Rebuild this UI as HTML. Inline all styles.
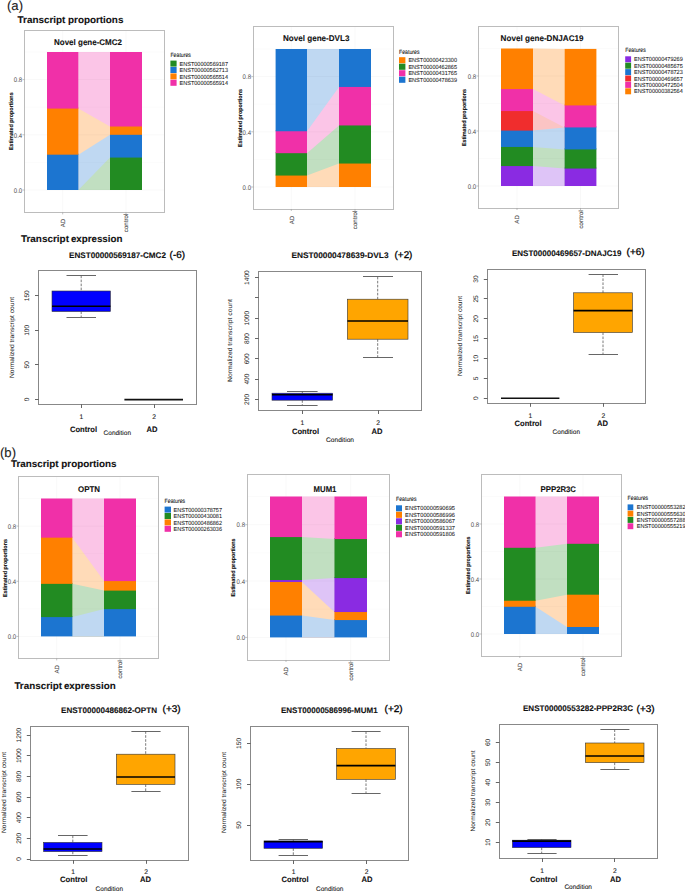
<!DOCTYPE html>
<html><head><meta charset="utf-8"><title>Transcript proportions and expression</title>
<style>
html,body{margin:0;padding:0;background:#fff;}
body{width:685px;height:891px;overflow:hidden;}
svg{display:block;font-family:"Liberation Sans",sans-serif;text-rendering:geometricPrecision;}
</style></head>
<body>
<svg width="685" height="891" viewBox="0 0 685 891">
<rect x="0" y="0" width="685" height="891" fill="#fff"/>
<text x="7" y="10" font-size="13" fill="#222" stroke="#222" stroke-width="0.1" text-anchor="start" textLength="16" lengthAdjust="spacingAndGlyphs">(a)</text>
<text x="17.6" y="22.6" font-size="9.7" font-weight="bold" fill="#111" stroke="#111" stroke-width="0.1" text-anchor="start" textLength="105.8" lengthAdjust="spacingAndGlyphs">Transcript proportions</text>
<text x="20.9" y="242" font-size="9.7" font-weight="bold" fill="#111" stroke="#111" stroke-width="0.1" text-anchor="start" textLength="48.1" lengthAdjust="spacingAndGlyphs">Transcript</text>
<text x="70.9" y="242" font-size="9.7" font-weight="bold" fill="#111" stroke="#111" stroke-width="0.1" text-anchor="start" textLength="51.5" lengthAdjust="spacingAndGlyphs">expression</text>
<text x="0" y="456.6" font-size="13" fill="#222" stroke="#222" stroke-width="0.1" text-anchor="start" textLength="16" lengthAdjust="spacingAndGlyphs">(b)</text>
<text x="11" y="467" font-size="9.7" font-weight="bold" fill="#111" stroke="#111" stroke-width="0.1" text-anchor="start" textLength="105.6" lengthAdjust="spacingAndGlyphs">Transcript proportions</text>
<text x="14.4" y="689" font-size="9.7" font-weight="bold" fill="#111" stroke="#111" stroke-width="0.1" text-anchor="start" textLength="47.6" lengthAdjust="spacingAndGlyphs">Transcript</text>
<text x="63.9" y="689" font-size="9.7" font-weight="bold" fill="#111" stroke="#111" stroke-width="0.1" text-anchor="start" textLength="51.8" lengthAdjust="spacingAndGlyphs">expression</text>
<polygon points="78.4,52 110,52 110,190 78.4,190" fill="#fbc5e7"/>
<polygon points="78.4,108.58 110,126.52 110,190 78.4,190" fill="#ffdbb8"/>
<polygon points="78.4,154.67 110,134.8 110,190 78.4,190" fill="#bfd8f2"/>
<polygon points="78.4,190 110,157.57 110,190 78.4,190" fill="#c1dfc1"/>
<line x1="24.6" y1="162.4" x2="164.4" y2="162.4" stroke="#000" stroke-width="0.5" stroke-opacity="0.035"/>
<line x1="24.6" y1="107.2" x2="164.4" y2="107.2" stroke="#000" stroke-width="0.5" stroke-opacity="0.035"/>
<line x1="24.6" y1="52" x2="164.4" y2="52" stroke="#000" stroke-width="0.5" stroke-opacity="0.035"/>
<line x1="24.6" y1="190" x2="164.4" y2="190" stroke="#000" stroke-width="0.5" stroke-opacity="0.06"/>
<line x1="24.6" y1="134.8" x2="164.4" y2="134.8" stroke="#000" stroke-width="0.5" stroke-opacity="0.06"/>
<line x1="24.6" y1="79.6" x2="164.4" y2="79.6" stroke="#000" stroke-width="0.5" stroke-opacity="0.06"/>
<line x1="62.7" y1="30.2" x2="62.7" y2="212.4" stroke="#000" stroke-width="0.5" stroke-opacity="0.06"/>
<line x1="126" y1="30.2" x2="126" y2="212.4" stroke="#000" stroke-width="0.5" stroke-opacity="0.06"/>
<rect x="110" y="156.57" width="32" height="33.43" fill="#228b22"/>
<rect x="47" y="153.67" width="31.4" height="36.33" fill="#1c75d0"/>
<rect x="110" y="133.8" width="32" height="23.77" fill="#1c75d0"/>
<rect x="47" y="107.58" width="31.4" height="47.09" fill="#ff8000"/>
<rect x="110" y="125.52" width="32" height="9.28" fill="#ff8000"/>
<rect x="47" y="52" width="31.4" height="56.58" fill="#f030a8"/>
<rect x="110" y="52" width="32" height="74.52" fill="#f030a8"/>
<rect x="24.5" y="30.5" width="140" height="182" fill="none" stroke="#bcbcbc" stroke-width="1"/>
<text x="54" y="44.7" font-size="8.2" font-weight="bold" fill="#111" stroke="#111" stroke-width="0.1" text-anchor="start" textLength="68" lengthAdjust="spacingAndGlyphs">Novel gene-CMC2</text>
<line x1="22.4" y1="190" x2="24.6" y2="190" stroke="#9a9a9a" stroke-width="0.6"/>
<text x="22.2" y="192.8" font-size="6.7" fill="#4d4d4d" stroke="#4d4d4d" stroke-width="0" text-anchor="end" textLength="8.4" lengthAdjust="spacingAndGlyphs">0.0</text>
<line x1="22.4" y1="134.8" x2="24.6" y2="134.8" stroke="#9a9a9a" stroke-width="0.6"/>
<text x="22.2" y="137.6" font-size="6.7" fill="#4d4d4d" stroke="#4d4d4d" stroke-width="0" text-anchor="end" textLength="8.4" lengthAdjust="spacingAndGlyphs">0.4</text>
<line x1="22.4" y1="79.6" x2="24.6" y2="79.6" stroke="#9a9a9a" stroke-width="0.6"/>
<text x="22.2" y="82.4" font-size="6.7" fill="#4d4d4d" stroke="#4d4d4d" stroke-width="0" text-anchor="end" textLength="8.4" lengthAdjust="spacingAndGlyphs">0.8</text>
<line x1="62.7" y1="212.4" x2="62.7" y2="214.4" stroke="#9a9a9a" stroke-width="0.6"/>
<line x1="126" y1="212.4" x2="126" y2="214.4" stroke="#9a9a9a" stroke-width="0.6"/>
<text transform="translate(64.9 223) rotate(-90)" x="0" y="0" font-size="6.1" fill="#505050" stroke="#505050" stroke-width="0.1" text-anchor="middle">AD</text>
<text transform="translate(128.2 223) rotate(-90)" x="0" y="0" font-size="6.1" fill="#505050" stroke="#505050" stroke-width="0.1" text-anchor="middle">control</text>
<text transform="translate(13.15 121.2) rotate(-90)" x="0" y="0" font-size="5.7" font-weight="bold" fill="#111" stroke="#111" stroke-width="0.1" text-anchor="middle" textLength="57.7" lengthAdjust="spacingAndGlyphs">Estimated proportions</text>
<text x="170.4" y="57" font-size="6.3" fill="#000" stroke="#000" stroke-width="0.05" text-anchor="start" textLength="20.6" lengthAdjust="spacingAndGlyphs">Features</text>
<rect x="170.4" y="60.6" width="6.2" height="6" fill="#228b22"/>
<text x="179.6" y="65.7" font-size="5.9" fill="#111" stroke="#111" stroke-width="0.05" text-anchor="start" textLength="48.4" lengthAdjust="spacingAndGlyphs">ENST00000569187</text>
<rect x="170.4" y="67" width="6.2" height="6" fill="#1c75d0"/>
<text x="179.6" y="72.1" font-size="5.9" fill="#111" stroke="#111" stroke-width="0.05" text-anchor="start" textLength="48.4" lengthAdjust="spacingAndGlyphs">ENST00000562713</text>
<rect x="170.4" y="73.4" width="6.2" height="6" fill="#ff8000"/>
<text x="179.6" y="78.5" font-size="5.9" fill="#111" stroke="#111" stroke-width="0.05" text-anchor="start" textLength="48.4" lengthAdjust="spacingAndGlyphs">ENST00000565514</text>
<rect x="170.4" y="79.8" width="6.2" height="6" fill="#f030a8"/>
<text x="179.6" y="84.9" font-size="5.9" fill="#111" stroke="#111" stroke-width="0.05" text-anchor="start" textLength="48.4" lengthAdjust="spacingAndGlyphs">ENST00000565914</text>
<polygon points="307,49 339,49 339,187 307,187" fill="#bfd8f2"/>
<polygon points="307,131.25 339,86.95 339,187 307,187" fill="#fbc5e7"/>
<polygon points="307,153.19 339,125.45 339,187 307,187" fill="#c1dfc1"/>
<polygon points="307,175.55 339,163.54 339,187 307,187" fill="#ffdbb8"/>
<line x1="253.4" y1="159.4" x2="393.6" y2="159.4" stroke="#000" stroke-width="0.5" stroke-opacity="0.035"/>
<line x1="253.4" y1="104.2" x2="393.6" y2="104.2" stroke="#000" stroke-width="0.5" stroke-opacity="0.035"/>
<line x1="253.4" y1="49" x2="393.6" y2="49" stroke="#000" stroke-width="0.5" stroke-opacity="0.035"/>
<line x1="253.4" y1="187" x2="393.6" y2="187" stroke="#000" stroke-width="0.5" stroke-opacity="0.06"/>
<line x1="253.4" y1="131.8" x2="393.6" y2="131.8" stroke="#000" stroke-width="0.5" stroke-opacity="0.06"/>
<line x1="253.4" y1="76.6" x2="393.6" y2="76.6" stroke="#000" stroke-width="0.5" stroke-opacity="0.06"/>
<line x1="291.3" y1="26.6" x2="291.3" y2="209" stroke="#000" stroke-width="0.5" stroke-opacity="0.06"/>
<line x1="355" y1="26.6" x2="355" y2="209" stroke="#000" stroke-width="0.5" stroke-opacity="0.06"/>
<rect x="275.6" y="174.55" width="31.4" height="12.45" fill="#ff8000"/>
<rect x="339" y="162.54" width="32" height="24.46" fill="#ff8000"/>
<rect x="275.6" y="152.19" width="31.4" height="23.36" fill="#228b22"/>
<rect x="339" y="124.45" width="32" height="39.09" fill="#228b22"/>
<rect x="275.6" y="130.25" width="31.4" height="22.94" fill="#f030a8"/>
<rect x="339" y="85.95" width="32" height="39.5" fill="#f030a8"/>
<rect x="275.6" y="49" width="31.4" height="82.25" fill="#1c75d0"/>
<rect x="339" y="49" width="32" height="37.95" fill="#1c75d0"/>
<rect x="253.5" y="26.5" width="140" height="183" fill="none" stroke="#bcbcbc" stroke-width="1"/>
<text x="283" y="41" font-size="8.2" font-weight="bold" fill="#111" stroke="#111" stroke-width="0.1" text-anchor="start" textLength="66.4" lengthAdjust="spacingAndGlyphs">Novel gene-DVL3</text>
<line x1="251.2" y1="187" x2="253.4" y2="187" stroke="#9a9a9a" stroke-width="0.6"/>
<text x="251" y="189.8" font-size="6.7" fill="#4d4d4d" stroke="#4d4d4d" stroke-width="0" text-anchor="end" textLength="8.4" lengthAdjust="spacingAndGlyphs">0.0</text>
<line x1="251.2" y1="131.8" x2="253.4" y2="131.8" stroke="#9a9a9a" stroke-width="0.6"/>
<text x="251" y="134.6" font-size="6.7" fill="#4d4d4d" stroke="#4d4d4d" stroke-width="0" text-anchor="end" textLength="8.4" lengthAdjust="spacingAndGlyphs">0.4</text>
<line x1="251.2" y1="76.6" x2="253.4" y2="76.6" stroke="#9a9a9a" stroke-width="0.6"/>
<text x="251" y="79.4" font-size="6.7" fill="#4d4d4d" stroke="#4d4d4d" stroke-width="0" text-anchor="end" textLength="8.4" lengthAdjust="spacingAndGlyphs">0.8</text>
<line x1="291.3" y1="209" x2="291.3" y2="211" stroke="#9a9a9a" stroke-width="0.6"/>
<line x1="355" y1="209" x2="355" y2="211" stroke="#9a9a9a" stroke-width="0.6"/>
<text transform="translate(293.5 220) rotate(-90)" x="0" y="0" font-size="6.1" fill="#505050" stroke="#505050" stroke-width="0.1" text-anchor="middle">AD</text>
<text transform="translate(357.2 220) rotate(-90)" x="0" y="0" font-size="6.1" fill="#505050" stroke="#505050" stroke-width="0.1" text-anchor="middle">control</text>
<text transform="translate(242.05 118) rotate(-90)" x="0" y="0" font-size="5.7" font-weight="bold" fill="#111" stroke="#111" stroke-width="0.1" text-anchor="middle" textLength="58" lengthAdjust="spacingAndGlyphs">Estimated proportions</text>
<text x="399" y="53.8" font-size="6.3" fill="#000" stroke="#000" stroke-width="0.05" text-anchor="start" textLength="20.6" lengthAdjust="spacingAndGlyphs">Features</text>
<rect x="399" y="57.2" width="6.4" height="6.1" fill="#ff8000"/>
<text x="408.4" y="62.35" font-size="5.9" fill="#111" stroke="#111" stroke-width="0.05" text-anchor="start" textLength="48.6" lengthAdjust="spacingAndGlyphs">ENST00000423300</text>
<rect x="399" y="63.7" width="6.4" height="6.1" fill="#228b22"/>
<text x="408.4" y="68.85" font-size="5.9" fill="#111" stroke="#111" stroke-width="0.05" text-anchor="start" textLength="48.6" lengthAdjust="spacingAndGlyphs">ENST00000462865</text>
<rect x="399" y="70.2" width="6.4" height="6.1" fill="#f030a8"/>
<text x="408.4" y="75.35" font-size="5.9" fill="#111" stroke="#111" stroke-width="0.05" text-anchor="start" textLength="48.6" lengthAdjust="spacingAndGlyphs">ENST00000431765</text>
<rect x="399" y="76.7" width="6.4" height="6.1" fill="#1c75d0"/>
<text x="408.4" y="81.85" font-size="5.9" fill="#111" stroke="#111" stroke-width="0.05" text-anchor="start" textLength="48.6" lengthAdjust="spacingAndGlyphs">ENST00000478639</text>
<polygon points="533,48.5 564.6,48.91 564.6,186 533,186" fill="#ffdbb8"/>
<polygon points="533,89.06 564.6,105.42 564.6,186 533,186" fill="#fbc5e7"/>
<polygon points="533,111.06 564.6,127.42 564.6,186 533,186" fill="#fbc4c4"/>
<polygon points="533,130.59 564.6,127.42 564.6,186 533,186" fill="#bfd8f2"/>
<polygon points="533,146.95 564.6,149.43 564.6,186 533,186" fill="#c1dfc1"/>
<polygon points="533,166.06 564.6,168.54 564.6,186 533,186" fill="#dec4f7"/>
<line x1="478.6" y1="158.5" x2="618.6" y2="158.5" stroke="#000" stroke-width="0.5" stroke-opacity="0.035"/>
<line x1="478.6" y1="103.5" x2="618.6" y2="103.5" stroke="#000" stroke-width="0.5" stroke-opacity="0.035"/>
<line x1="478.6" y1="48.5" x2="618.6" y2="48.5" stroke="#000" stroke-width="0.5" stroke-opacity="0.035"/>
<line x1="478.6" y1="186" x2="618.6" y2="186" stroke="#000" stroke-width="0.5" stroke-opacity="0.06"/>
<line x1="478.6" y1="131" x2="618.6" y2="131" stroke="#000" stroke-width="0.5" stroke-opacity="0.06"/>
<line x1="478.6" y1="76" x2="618.6" y2="76" stroke="#000" stroke-width="0.5" stroke-opacity="0.06"/>
<line x1="517" y1="26" x2="517" y2="208" stroke="#000" stroke-width="0.5" stroke-opacity="0.06"/>
<line x1="580.5" y1="26" x2="580.5" y2="208" stroke="#000" stroke-width="0.5" stroke-opacity="0.06"/>
<rect x="501" y="165.06" width="32" height="20.94" fill="#8a2be2"/>
<rect x="564.6" y="167.54" width="31.8" height="18.46" fill="#8a2be2"/>
<rect x="501" y="145.95" width="32" height="20.11" fill="#228b22"/>
<rect x="564.6" y="148.43" width="31.8" height="20.11" fill="#228b22"/>
<rect x="501" y="129.59" width="32" height="17.36" fill="#1c75d0"/>
<rect x="564.6" y="126.42" width="31.8" height="23" fill="#1c75d0"/>
<rect x="501" y="110.06" width="32" height="20.53" fill="#f02d2d"/>
<rect x="501" y="88.06" width="32" height="23" fill="#f030a8"/>
<rect x="564.6" y="104.42" width="31.8" height="23" fill="#f030a8"/>
<rect x="501" y="48.5" width="32" height="40.56" fill="#ff8000"/>
<rect x="564.6" y="48.91" width="31.8" height="56.51" fill="#ff8000"/>
<rect x="478.5" y="26.5" width="140" height="182" fill="none" stroke="#bcbcbc" stroke-width="1"/>
<text x="500.6" y="41" font-size="8.2" font-weight="bold" fill="#111" stroke="#111" stroke-width="0.1" text-anchor="start" textLength="83" lengthAdjust="spacingAndGlyphs">Novel gene-DNJAC19</text>
<line x1="476.4" y1="186" x2="478.6" y2="186" stroke="#9a9a9a" stroke-width="0.6"/>
<text x="476.2" y="188.8" font-size="6.7" fill="#4d4d4d" stroke="#4d4d4d" stroke-width="0" text-anchor="end" textLength="8.4" lengthAdjust="spacingAndGlyphs">0.0</text>
<line x1="476.4" y1="131" x2="478.6" y2="131" stroke="#9a9a9a" stroke-width="0.6"/>
<text x="476.2" y="133.8" font-size="6.7" fill="#4d4d4d" stroke="#4d4d4d" stroke-width="0" text-anchor="end" textLength="8.4" lengthAdjust="spacingAndGlyphs">0.4</text>
<line x1="476.4" y1="76" x2="478.6" y2="76" stroke="#9a9a9a" stroke-width="0.6"/>
<text x="476.2" y="78.8" font-size="6.7" fill="#4d4d4d" stroke="#4d4d4d" stroke-width="0" text-anchor="end" textLength="8.4" lengthAdjust="spacingAndGlyphs">0.8</text>
<line x1="517" y1="208" x2="517" y2="210" stroke="#9a9a9a" stroke-width="0.6"/>
<line x1="580.5" y1="208" x2="580.5" y2="210" stroke="#9a9a9a" stroke-width="0.6"/>
<text transform="translate(519.2 219.4) rotate(-90)" x="0" y="0" font-size="6.1" fill="#505050" stroke="#505050" stroke-width="0.1" text-anchor="middle">AD</text>
<text transform="translate(582.7 219.4) rotate(-90)" x="0" y="0" font-size="6.1" fill="#505050" stroke="#505050" stroke-width="0.1" text-anchor="middle">control</text>
<text transform="translate(466.25 117.5) rotate(-90)" x="0" y="0" font-size="5.7" font-weight="bold" fill="#111" stroke="#111" stroke-width="0.1" text-anchor="middle" textLength="57" lengthAdjust="spacingAndGlyphs">Estimated proportions</text>
<text x="625.2" y="52.4" font-size="6.3" fill="#000" stroke="#000" stroke-width="0.05" text-anchor="start" textLength="20.6" lengthAdjust="spacingAndGlyphs">Features</text>
<rect x="625.2" y="56.3" width="5.9" height="6" fill="#8a2be2"/>
<text x="634" y="61.4" font-size="5.9" fill="#111" stroke="#111" stroke-width="0.05" text-anchor="start" textLength="48.8" lengthAdjust="spacingAndGlyphs">ENST00000479269</text>
<rect x="625.2" y="62.7" width="5.9" height="6" fill="#228b22"/>
<text x="634" y="67.8" font-size="5.9" fill="#111" stroke="#111" stroke-width="0.05" text-anchor="start" textLength="48.8" lengthAdjust="spacingAndGlyphs">ENST00000485675</text>
<rect x="625.2" y="69.1" width="5.9" height="6" fill="#1c75d0"/>
<text x="634" y="74.2" font-size="5.9" fill="#111" stroke="#111" stroke-width="0.05" text-anchor="start" textLength="48.8" lengthAdjust="spacingAndGlyphs">ENST00000478723</text>
<rect x="625.2" y="75.5" width="5.9" height="6" fill="#f02d2d"/>
<text x="634" y="80.6" font-size="5.9" fill="#111" stroke="#111" stroke-width="0.05" text-anchor="start" textLength="48.8" lengthAdjust="spacingAndGlyphs">ENST00000469657</text>
<rect x="625.2" y="81.9" width="5.9" height="6" fill="#f030a8"/>
<text x="634" y="87" font-size="5.9" fill="#111" stroke="#111" stroke-width="0.05" text-anchor="start" textLength="48.8" lengthAdjust="spacingAndGlyphs">ENST00000472504</text>
<rect x="625.2" y="88.3" width="5.9" height="6" fill="#ff8000"/>
<text x="634" y="93.4" font-size="5.9" fill="#111" stroke="#111" stroke-width="0.05" text-anchor="start" textLength="48.8" lengthAdjust="spacingAndGlyphs">ENST00000382564</text>
<polygon points="72.4,498.5 104,498.5 104,636.4 72.4,636.4" fill="#fbc5e7"/>
<polygon points="72.4,537.66 104,581.1 104,636.4 72.4,636.4" fill="#ffdbb8"/>
<polygon points="72.4,583.86 104,590.62 104,636.4 72.4,636.4" fill="#c1dfc1"/>
<polygon points="72.4,617.09 104,609.1 104,636.4 72.4,636.4" fill="#bfd8f2"/>
<line x1="18.6" y1="608.82" x2="158.6" y2="608.82" stroke="#000" stroke-width="0.5" stroke-opacity="0.035"/>
<line x1="18.6" y1="553.66" x2="158.6" y2="553.66" stroke="#000" stroke-width="0.5" stroke-opacity="0.035"/>
<line x1="18.6" y1="498.5" x2="158.6" y2="498.5" stroke="#000" stroke-width="0.5" stroke-opacity="0.035"/>
<line x1="18.6" y1="636.4" x2="158.6" y2="636.4" stroke="#000" stroke-width="0.5" stroke-opacity="0.06"/>
<line x1="18.6" y1="581.24" x2="158.6" y2="581.24" stroke="#000" stroke-width="0.5" stroke-opacity="0.06"/>
<line x1="18.6" y1="526.08" x2="158.6" y2="526.08" stroke="#000" stroke-width="0.5" stroke-opacity="0.06"/>
<line x1="56.7" y1="476.4" x2="56.7" y2="658.4" stroke="#000" stroke-width="0.5" stroke-opacity="0.06"/>
<line x1="120" y1="476.4" x2="120" y2="658.4" stroke="#000" stroke-width="0.5" stroke-opacity="0.06"/>
<rect x="41" y="616.09" width="31.4" height="20.31" fill="#1c75d0"/>
<rect x="104" y="608.1" width="32" height="28.3" fill="#1c75d0"/>
<rect x="41" y="582.86" width="31.4" height="34.23" fill="#228b22"/>
<rect x="104" y="589.62" width="32" height="19.48" fill="#228b22"/>
<rect x="41" y="536.66" width="31.4" height="47.2" fill="#ff8000"/>
<rect x="104" y="580.1" width="32" height="10.52" fill="#ff8000"/>
<rect x="41" y="498.5" width="31.4" height="39.16" fill="#f030a8"/>
<rect x="104" y="498.5" width="32" height="82.6" fill="#f030a8"/>
<rect x="18.5" y="476.5" width="140" height="182" fill="none" stroke="#bcbcbc" stroke-width="1"/>
<text x="78" y="491.6" font-size="8.2" font-weight="bold" fill="#111" stroke="#111" stroke-width="0.1" text-anchor="start" textLength="22" lengthAdjust="spacingAndGlyphs">OPTN</text>
<line x1="16.4" y1="636.4" x2="18.6" y2="636.4" stroke="#9a9a9a" stroke-width="0.6"/>
<text x="16.2" y="639.2" font-size="6.7" fill="#4d4d4d" stroke="#4d4d4d" stroke-width="0" text-anchor="end" textLength="8.4" lengthAdjust="spacingAndGlyphs">0.0</text>
<line x1="16.4" y1="581.24" x2="18.6" y2="581.24" stroke="#9a9a9a" stroke-width="0.6"/>
<text x="16.2" y="584.04" font-size="6.7" fill="#4d4d4d" stroke="#4d4d4d" stroke-width="0" text-anchor="end" textLength="8.4" lengthAdjust="spacingAndGlyphs">0.4</text>
<line x1="16.4" y1="526.08" x2="18.6" y2="526.08" stroke="#9a9a9a" stroke-width="0.6"/>
<text x="16.2" y="528.88" font-size="6.7" fill="#4d4d4d" stroke="#4d4d4d" stroke-width="0" text-anchor="end" textLength="8.4" lengthAdjust="spacingAndGlyphs">0.8</text>
<line x1="56.7" y1="658.4" x2="56.7" y2="660.4" stroke="#9a9a9a" stroke-width="0.6"/>
<line x1="120" y1="658.4" x2="120" y2="660.4" stroke="#9a9a9a" stroke-width="0.6"/>
<text transform="translate(58.9 669.3) rotate(-90)" x="0" y="0" font-size="6.1" fill="#505050" stroke="#505050" stroke-width="0.1" text-anchor="middle">AD</text>
<text transform="translate(122.2 669.3) rotate(-90)" x="0" y="0" font-size="6.1" fill="#505050" stroke="#505050" stroke-width="0.1" text-anchor="middle">control</text>
<text transform="translate(7.05 568) rotate(-90)" x="0" y="0" font-size="5.7" font-weight="bold" fill="#111" stroke="#111" stroke-width="0.1" text-anchor="middle" textLength="58" lengthAdjust="spacingAndGlyphs">Estimated proportions</text>
<text x="164.6" y="503" font-size="6.3" fill="#000" stroke="#000" stroke-width="0.05" text-anchor="start" textLength="20.6" lengthAdjust="spacingAndGlyphs">Features</text>
<rect x="164.6" y="506.6" width="6.4" height="6" fill="#1c75d0"/>
<text x="173.6" y="511.7" font-size="5.9" fill="#111" stroke="#111" stroke-width="0.05" text-anchor="start" textLength="48.4" lengthAdjust="spacingAndGlyphs">ENST00000378757</text>
<rect x="164.6" y="513" width="6.4" height="6" fill="#228b22"/>
<text x="173.6" y="518.1" font-size="5.9" fill="#111" stroke="#111" stroke-width="0.05" text-anchor="start" textLength="48.4" lengthAdjust="spacingAndGlyphs">ENST00000430081</text>
<rect x="164.6" y="519.4" width="6.4" height="6" fill="#ff8000"/>
<text x="173.6" y="524.5" font-size="5.9" fill="#111" stroke="#111" stroke-width="0.05" text-anchor="start" textLength="48.4" lengthAdjust="spacingAndGlyphs">ENST00000486862</text>
<rect x="164.6" y="525.8" width="6.4" height="6" fill="#f030a8"/>
<text x="173.6" y="530.9" font-size="5.9" fill="#111" stroke="#111" stroke-width="0.05" text-anchor="start" textLength="48.4" lengthAdjust="spacingAndGlyphs">ENST00000263036</text>
<polygon points="302,496.5 334.4,496.5 334.4,637.4 302,637.4" fill="#fbc5e7"/>
<polygon points="302,537.08 334.4,539.05 334.4,637.4 302,637.4" fill="#c1dfc1"/>
<polygon points="302,580.05 334.4,578.08 334.4,637.4 302,637.4" fill="#dec4f7"/>
<polygon points="302,582.03 334.4,612.04 334.4,637.4 302,637.4" fill="#ffdbb8"/>
<polygon points="302,615.56 334.4,620.07 334.4,637.4 302,637.4" fill="#bfd8f2"/>
<line x1="247.4" y1="609.22" x2="389.6" y2="609.22" stroke="#000" stroke-width="0.5" stroke-opacity="0.035"/>
<line x1="247.4" y1="552.86" x2="389.6" y2="552.86" stroke="#000" stroke-width="0.5" stroke-opacity="0.035"/>
<line x1="247.4" y1="496.5" x2="389.6" y2="496.5" stroke="#000" stroke-width="0.5" stroke-opacity="0.035"/>
<line x1="247.4" y1="637.4" x2="389.6" y2="637.4" stroke="#000" stroke-width="0.5" stroke-opacity="0.06"/>
<line x1="247.4" y1="581.04" x2="389.6" y2="581.04" stroke="#000" stroke-width="0.5" stroke-opacity="0.06"/>
<line x1="247.4" y1="524.68" x2="389.6" y2="524.68" stroke="#000" stroke-width="0.5" stroke-opacity="0.06"/>
<line x1="286" y1="474.4" x2="286" y2="660" stroke="#000" stroke-width="0.5" stroke-opacity="0.06"/>
<line x1="350.7" y1="474.4" x2="350.7" y2="660" stroke="#000" stroke-width="0.5" stroke-opacity="0.06"/>
<rect x="270" y="614.56" width="32" height="22.84" fill="#1c75d0"/>
<rect x="334.4" y="619.07" width="32.6" height="18.33" fill="#1c75d0"/>
<rect x="270" y="581.03" width="32" height="34.53" fill="#ff8000"/>
<rect x="334.4" y="611.04" width="32.6" height="9.03" fill="#ff8000"/>
<rect x="270" y="579.05" width="32" height="2.97" fill="#8a2be2"/>
<rect x="334.4" y="577.08" width="32.6" height="34.96" fill="#8a2be2"/>
<rect x="270" y="536.08" width="32" height="43.97" fill="#228b22"/>
<rect x="334.4" y="538.05" width="32.6" height="40.03" fill="#228b22"/>
<rect x="270" y="496.5" width="32" height="40.58" fill="#f030a8"/>
<rect x="334.4" y="496.5" width="32.6" height="42.55" fill="#f030a8"/>
<rect x="247.5" y="474.5" width="142" height="186" fill="none" stroke="#bcbcbc" stroke-width="1"/>
<text x="313.6" y="491.6" font-size="8.2" font-weight="bold" fill="#111" stroke="#111" stroke-width="0.1" text-anchor="start" textLength="22.8" lengthAdjust="spacingAndGlyphs">MUM1</text>
<line x1="245.2" y1="637.4" x2="247.4" y2="637.4" stroke="#9a9a9a" stroke-width="0.6"/>
<text x="245" y="640.2" font-size="6.7" fill="#4d4d4d" stroke="#4d4d4d" stroke-width="0" text-anchor="end" textLength="8.4" lengthAdjust="spacingAndGlyphs">0.0</text>
<line x1="245.2" y1="581.04" x2="247.4" y2="581.04" stroke="#9a9a9a" stroke-width="0.6"/>
<text x="245" y="583.84" font-size="6.7" fill="#4d4d4d" stroke="#4d4d4d" stroke-width="0" text-anchor="end" textLength="8.4" lengthAdjust="spacingAndGlyphs">0.4</text>
<line x1="245.2" y1="524.68" x2="247.4" y2="524.68" stroke="#9a9a9a" stroke-width="0.6"/>
<text x="245" y="527.48" font-size="6.7" fill="#4d4d4d" stroke="#4d4d4d" stroke-width="0" text-anchor="end" textLength="8.4" lengthAdjust="spacingAndGlyphs">0.8</text>
<line x1="286" y1="660" x2="286" y2="662" stroke="#9a9a9a" stroke-width="0.6"/>
<line x1="350.7" y1="660" x2="350.7" y2="662" stroke="#9a9a9a" stroke-width="0.6"/>
<text transform="translate(288.2 671.3) rotate(-90)" x="0" y="0" font-size="6.1" fill="#505050" stroke="#505050" stroke-width="0.1" text-anchor="middle">AD</text>
<text transform="translate(352.9 671.3) rotate(-90)" x="0" y="0" font-size="6.1" fill="#505050" stroke="#505050" stroke-width="0.1" text-anchor="middle">control</text>
<text transform="translate(235.05 567.5) rotate(-90)" x="0" y="0" font-size="5.7" font-weight="bold" fill="#111" stroke="#111" stroke-width="0.1" text-anchor="middle" textLength="58" lengthAdjust="spacingAndGlyphs">Estimated proportions</text>
<text x="396" y="501.1" font-size="6.3" fill="#000" stroke="#000" stroke-width="0.05" text-anchor="start" textLength="20.6" lengthAdjust="spacingAndGlyphs">Features</text>
<rect x="396" y="505.3" width="6" height="6.08" fill="#1c75d0"/>
<text x="405.1" y="510.44" font-size="5.9" fill="#111" stroke="#111" stroke-width="0.05" text-anchor="start" textLength="49.9" lengthAdjust="spacingAndGlyphs">ENST00000590695</text>
<rect x="396" y="511.78" width="6" height="6.08" fill="#ff8000"/>
<text x="405.1" y="516.92" font-size="5.9" fill="#111" stroke="#111" stroke-width="0.05" text-anchor="start" textLength="49.9" lengthAdjust="spacingAndGlyphs">ENST00000586996</text>
<rect x="396" y="518.26" width="6" height="6.08" fill="#8a2be2"/>
<text x="405.1" y="523.4" font-size="5.9" fill="#111" stroke="#111" stroke-width="0.05" text-anchor="start" textLength="49.9" lengthAdjust="spacingAndGlyphs">ENST00000586067</text>
<rect x="396" y="524.74" width="6" height="6.08" fill="#228b22"/>
<text x="405.1" y="529.88" font-size="5.9" fill="#111" stroke="#111" stroke-width="0.05" text-anchor="start" textLength="49.9" lengthAdjust="spacingAndGlyphs">ENST00000591337</text>
<rect x="396" y="531.22" width="6" height="6.08" fill="#f030a8"/>
<text x="405.1" y="536.36" font-size="5.9" fill="#111" stroke="#111" stroke-width="0.05" text-anchor="start" textLength="49.9" lengthAdjust="spacingAndGlyphs">ENST00000591806</text>
<polygon points="535.6,496.5 567,496.5 567,634 535.6,634" fill="#fbc5e7"/>
<polygon points="535.6,547.79 567,543.8 567,634 535.6,634" fill="#c1dfc1"/>
<polygon points="535.6,600.73 567,594.67 567,634 535.6,634" fill="#ffdbb8"/>
<polygon points="535.6,606.77 567,626.99 567,634 535.6,634" fill="#bfd8f2"/>
<line x1="481.6" y1="606.5" x2="621.6" y2="606.5" stroke="#000" stroke-width="0.5" stroke-opacity="0.035"/>
<line x1="481.6" y1="551.5" x2="621.6" y2="551.5" stroke="#000" stroke-width="0.5" stroke-opacity="0.035"/>
<line x1="481.6" y1="496.5" x2="621.6" y2="496.5" stroke="#000" stroke-width="0.5" stroke-opacity="0.035"/>
<line x1="481.6" y1="634" x2="621.6" y2="634" stroke="#000" stroke-width="0.5" stroke-opacity="0.06"/>
<line x1="481.6" y1="579" x2="621.6" y2="579" stroke="#000" stroke-width="0.5" stroke-opacity="0.06"/>
<line x1="481.6" y1="524" x2="621.6" y2="524" stroke="#000" stroke-width="0.5" stroke-opacity="0.06"/>
<line x1="519.8" y1="474" x2="519.8" y2="656" stroke="#000" stroke-width="0.5" stroke-opacity="0.06"/>
<line x1="583" y1="474" x2="583" y2="656" stroke="#000" stroke-width="0.5" stroke-opacity="0.06"/>
<rect x="504" y="605.77" width="31.6" height="28.23" fill="#1c75d0"/>
<rect x="567" y="625.99" width="32" height="8.01" fill="#1c75d0"/>
<rect x="504" y="599.73" width="31.6" height="7.05" fill="#ff8000"/>
<rect x="567" y="593.67" width="32" height="33.31" fill="#ff8000"/>
<rect x="504" y="546.79" width="31.6" height="53.94" fill="#228b22"/>
<rect x="567" y="542.8" width="32" height="51.88" fill="#228b22"/>
<rect x="504" y="496.5" width="31.6" height="51.29" fill="#f030a8"/>
<rect x="567" y="496.5" width="32" height="47.3" fill="#f030a8"/>
<rect x="481.5" y="474.5" width="140" height="182" fill="none" stroke="#bcbcbc" stroke-width="1"/>
<text x="540.6" y="491.6" font-size="8.2" font-weight="bold" fill="#111" stroke="#111" stroke-width="0.1" text-anchor="start" textLength="35.4" lengthAdjust="spacingAndGlyphs">PPP2R3C</text>
<line x1="479.4" y1="634" x2="481.6" y2="634" stroke="#9a9a9a" stroke-width="0.6"/>
<text x="479.2" y="636.8" font-size="6.7" fill="#4d4d4d" stroke="#4d4d4d" stroke-width="0" text-anchor="end" textLength="8.4" lengthAdjust="spacingAndGlyphs">0.0</text>
<line x1="479.4" y1="579" x2="481.6" y2="579" stroke="#9a9a9a" stroke-width="0.6"/>
<text x="479.2" y="581.8" font-size="6.7" fill="#4d4d4d" stroke="#4d4d4d" stroke-width="0" text-anchor="end" textLength="8.4" lengthAdjust="spacingAndGlyphs">0.4</text>
<line x1="479.4" y1="524" x2="481.6" y2="524" stroke="#9a9a9a" stroke-width="0.6"/>
<text x="479.2" y="526.8" font-size="6.7" fill="#4d4d4d" stroke="#4d4d4d" stroke-width="0" text-anchor="end" textLength="8.4" lengthAdjust="spacingAndGlyphs">0.8</text>
<line x1="519.8" y1="656" x2="519.8" y2="658" stroke="#9a9a9a" stroke-width="0.6"/>
<line x1="583" y1="656" x2="583" y2="658" stroke="#9a9a9a" stroke-width="0.6"/>
<text transform="translate(522 667) rotate(-90)" x="0" y="0" font-size="6.1" fill="#505050" stroke="#505050" stroke-width="0.1" text-anchor="middle">AD</text>
<text transform="translate(585.2 667) rotate(-90)" x="0" y="0" font-size="6.1" fill="#505050" stroke="#505050" stroke-width="0.1" text-anchor="middle">control</text>
<text transform="translate(470.05 565.3) rotate(-90)" x="0" y="0" font-size="5.7" font-weight="bold" fill="#111" stroke="#111" stroke-width="0.1" text-anchor="middle" textLength="57.4" lengthAdjust="spacingAndGlyphs">Estimated proportions</text>
<text x="627.6" y="500.4" font-size="6.3" fill="#000" stroke="#000" stroke-width="0.05" text-anchor="start" textLength="20.6" lengthAdjust="spacingAndGlyphs">Features</text>
<rect x="627.6" y="504.4" width="5.7" height="5.9" fill="#1c75d0"/>
<text x="636.7" y="509.45" font-size="5.9" fill="#111" stroke="#111" stroke-width="0.05" text-anchor="start" textLength="48.8" lengthAdjust="spacingAndGlyphs">ENST00000553282</text>
<rect x="627.6" y="510.7" width="5.7" height="5.9" fill="#ff8000"/>
<text x="636.7" y="515.75" font-size="5.9" fill="#111" stroke="#111" stroke-width="0.05" text-anchor="start" textLength="48.8" lengthAdjust="spacingAndGlyphs">ENST00000555630</text>
<rect x="627.6" y="517" width="5.7" height="5.9" fill="#228b22"/>
<text x="636.7" y="522.05" font-size="5.9" fill="#111" stroke="#111" stroke-width="0.05" text-anchor="start" textLength="48.8" lengthAdjust="spacingAndGlyphs">ENST00000557288</text>
<rect x="627.6" y="523.3" width="5.7" height="5.9" fill="#f030a8"/>
<text x="636.7" y="528.35" font-size="5.9" fill="#111" stroke="#111" stroke-width="0.05" text-anchor="start" textLength="48.8" lengthAdjust="spacingAndGlyphs">ENST00000555219</text>
<line x1="81.2" y1="275.6" x2="81.2" y2="291" stroke="#333" stroke-width="0.65" stroke-dasharray="2.6 1.4"/>
<line x1="81.2" y1="311.5" x2="81.2" y2="317.2" stroke="#333" stroke-width="0.65" stroke-dasharray="2.6 1.4"/>
<line x1="66.5" y1="275.5" x2="96" y2="275.5" stroke="#555" stroke-width="0.9"/>
<line x1="66.5" y1="317.5" x2="96" y2="317.5" stroke="#555" stroke-width="0.9"/>
<rect x="52" y="291" width="58.4" height="20.5" fill="#0000ff" stroke="#333" stroke-width="0.6"/>
<line x1="52" y1="306.3" x2="110.4" y2="306.3" stroke="#000" stroke-width="1.6"/>
<line x1="124.4" y1="399.6" x2="183" y2="399.6" stroke="#111" stroke-width="1.6"/>
<rect x="38.5" y="270.5" width="158" height="134" fill="none" stroke="#888" stroke-width="1"/>
<line x1="35" y1="399.5" x2="38.6" y2="399.5" stroke="#555" stroke-width="0.9"/>
<text transform="translate(29.38 399.4) rotate(-90)" x="0" y="0" font-size="6.6" fill="#222" stroke="#222" stroke-width="0.03" text-anchor="middle">0</text>
<line x1="35" y1="364.5" x2="38.6" y2="364.5" stroke="#555" stroke-width="0.9"/>
<text transform="translate(29.38 364.85) rotate(-90)" x="0" y="0" font-size="6.6" fill="#222" stroke="#222" stroke-width="0.03" text-anchor="middle">50</text>
<line x1="35" y1="330.5" x2="38.6" y2="330.5" stroke="#555" stroke-width="0.9"/>
<text transform="translate(29.38 330.3) rotate(-90)" x="0" y="0" font-size="6.6" fill="#222" stroke="#222" stroke-width="0.03" text-anchor="middle">100</text>
<line x1="35" y1="295.5" x2="38.6" y2="295.5" stroke="#555" stroke-width="0.9"/>
<text transform="translate(29.38 295.75) rotate(-90)" x="0" y="0" font-size="6.6" fill="#222" stroke="#222" stroke-width="0.03" text-anchor="middle">150</text>
<line x1="81.5" y1="404.4" x2="81.5" y2="408" stroke="#555" stroke-width="0.9"/>
<text x="81.4" y="419" font-size="6.7" fill="#222" stroke="#222" stroke-width="0.1" text-anchor="middle">1</text>
<line x1="154.5" y1="404.4" x2="154.5" y2="408" stroke="#555" stroke-width="0.9"/>
<text x="154" y="419" font-size="6.7" fill="#222" stroke="#222" stroke-width="0.1" text-anchor="middle">2</text>
<text x="70" y="431.6" font-size="7.9" font-weight="bold" fill="#111" stroke="#111" stroke-width="0.1" text-anchor="start" textLength="27" lengthAdjust="spacingAndGlyphs">Control</text>
<text x="146.4" y="431.6" font-size="7.9" font-weight="bold" fill="#111" stroke="#111" stroke-width="0.1" text-anchor="start" textLength="11" lengthAdjust="spacingAndGlyphs">AD</text>
<text x="103.6" y="434.6" font-size="6.6" fill="#222" stroke="#222" stroke-width="0.1" text-anchor="start" textLength="27.4" lengthAdjust="spacingAndGlyphs">Condition</text>
<text x="69" y="258" font-size="8.1" font-weight="bold" fill="#111" stroke="#111" stroke-width="0.1" text-anchor="start" textLength="97" lengthAdjust="spacingAndGlyphs">ENST00000569187-CMC2</text>
<text x="169.6" y="258" font-size="9.8" fill="#000" stroke="#000" stroke-width="0.3" text-anchor="start" textLength="15.4" lengthAdjust="spacingAndGlyphs">(-6)</text>
<text transform="translate(13.7 337.5) rotate(-90)" x="0" y="0" font-size="6.4" fill="#222" stroke="#222" stroke-width="0.03" text-anchor="middle" textLength="81" lengthAdjust="spacingAndGlyphs">Normalized transcript count</text>
<line x1="302.3" y1="391.4" x2="302.3" y2="393.2" stroke="#333" stroke-width="0.65" stroke-dasharray="2.6 1.4"/>
<line x1="302.3" y1="400.2" x2="302.3" y2="405.4" stroke="#333" stroke-width="0.65" stroke-dasharray="2.6 1.4"/>
<line x1="287" y1="391.5" x2="317.6" y2="391.5" stroke="#555" stroke-width="0.9"/>
<line x1="287" y1="405.5" x2="317.6" y2="405.5" stroke="#555" stroke-width="0.9"/>
<rect x="272" y="393.2" width="60.6" height="7" fill="#0000ff" stroke="#333" stroke-width="0.6"/>
<line x1="272" y1="394.7" x2="332.6" y2="394.7" stroke="#000" stroke-width="1.6"/>
<line x1="377.7" y1="276.8" x2="377.7" y2="299.2" stroke="#333" stroke-width="0.65" stroke-dasharray="2.6 1.4"/>
<line x1="377.7" y1="339.2" x2="377.7" y2="357.6" stroke="#333" stroke-width="0.65" stroke-dasharray="2.6 1.4"/>
<line x1="363" y1="276.5" x2="393" y2="276.5" stroke="#555" stroke-width="0.9"/>
<line x1="363" y1="357.5" x2="393" y2="357.5" stroke="#555" stroke-width="0.9"/>
<rect x="347.4" y="299.2" width="60.6" height="40" fill="#ffa500" stroke="#333" stroke-width="0.6"/>
<line x1="347.4" y1="321" x2="408" y2="321" stroke="#000" stroke-width="1.6"/>
<rect x="258.5" y="271.5" width="163" height="139" fill="none" stroke="#888" stroke-width="1"/>
<line x1="255" y1="399.5" x2="258.6" y2="399.5" stroke="#555" stroke-width="0.9"/>
<text transform="translate(249.38 399.4) rotate(-90)" x="0" y="0" font-size="6.6" fill="#222" stroke="#222" stroke-width="0.03" text-anchor="middle">200</text>
<line x1="255" y1="379.5" x2="258.6" y2="379.5" stroke="#555" stroke-width="0.9"/>
<text transform="translate(249.38 379.1) rotate(-90)" x="0" y="0" font-size="6.6" fill="#222" stroke="#222" stroke-width="0.03" text-anchor="middle">400</text>
<line x1="255" y1="358.5" x2="258.6" y2="358.5" stroke="#555" stroke-width="0.9"/>
<text transform="translate(249.38 358.8) rotate(-90)" x="0" y="0" font-size="6.6" fill="#222" stroke="#222" stroke-width="0.03" text-anchor="middle">600</text>
<line x1="255" y1="338.5" x2="258.6" y2="338.5" stroke="#555" stroke-width="0.9"/>
<text transform="translate(249.38 338.5) rotate(-90)" x="0" y="0" font-size="6.6" fill="#222" stroke="#222" stroke-width="0.03" text-anchor="middle">800</text>
<line x1="255" y1="318.5" x2="258.6" y2="318.5" stroke="#555" stroke-width="0.9"/>
<text transform="translate(249.38 318.2) rotate(-90)" x="0" y="0" font-size="6.6" fill="#222" stroke="#222" stroke-width="0.03" text-anchor="middle">1000</text>
<line x1="255" y1="297.5" x2="258.6" y2="297.5" stroke="#555" stroke-width="0.9"/>
<line x1="255" y1="277.5" x2="258.6" y2="277.5" stroke="#555" stroke-width="0.9"/>
<text transform="translate(249.38 277.6) rotate(-90)" x="0" y="0" font-size="6.6" fill="#222" stroke="#222" stroke-width="0.03" text-anchor="middle">1400</text>
<line x1="302.5" y1="410.4" x2="302.5" y2="414" stroke="#555" stroke-width="0.9"/>
<text x="302.4" y="425" font-size="6.7" fill="#222" stroke="#222" stroke-width="0.1" text-anchor="middle">1</text>
<line x1="378.5" y1="410.4" x2="378.5" y2="414" stroke="#555" stroke-width="0.9"/>
<text x="378" y="425" font-size="6.7" fill="#222" stroke="#222" stroke-width="0.1" text-anchor="middle">2</text>
<text x="292" y="433.6" font-size="7.9" font-weight="bold" fill="#111" stroke="#111" stroke-width="0.1" text-anchor="start" textLength="27" lengthAdjust="spacingAndGlyphs">Control</text>
<text x="371.6" y="433.6" font-size="7.9" font-weight="bold" fill="#111" stroke="#111" stroke-width="0.1" text-anchor="start" textLength="11" lengthAdjust="spacingAndGlyphs">AD</text>
<text x="326" y="442" font-size="6.6" fill="#222" stroke="#222" stroke-width="0.1" text-anchor="start" textLength="28" lengthAdjust="spacingAndGlyphs">Condition</text>
<text x="291.4" y="258" font-size="8.1" font-weight="bold" fill="#111" stroke="#111" stroke-width="0.1" text-anchor="start" textLength="97.2" lengthAdjust="spacingAndGlyphs">ENST00000478639-DVL3</text>
<text x="394.6" y="258" font-size="9.8" fill="#000" stroke="#000" stroke-width="0.3" text-anchor="start" textLength="17.8" lengthAdjust="spacingAndGlyphs">(+2)</text>
<text transform="translate(232.3 340.5) rotate(-90)" x="0" y="0" font-size="6.4" fill="#222" stroke="#222" stroke-width="0.03" text-anchor="middle" textLength="83" lengthAdjust="spacingAndGlyphs">Normalized transcript count</text>
<line x1="501" y1="398.2" x2="559.4" y2="398.2" stroke="#111" stroke-width="1.6"/>
<line x1="603" y1="274.4" x2="603" y2="292.8" stroke="#333" stroke-width="0.65" stroke-dasharray="2.6 1.4"/>
<line x1="603" y1="332.5" x2="603" y2="354.4" stroke="#333" stroke-width="0.65" stroke-dasharray="2.6 1.4"/>
<line x1="588.6" y1="274.5" x2="618" y2="274.5" stroke="#555" stroke-width="0.9"/>
<line x1="588.6" y1="354.5" x2="618" y2="354.5" stroke="#555" stroke-width="0.9"/>
<rect x="573.6" y="292.8" width="58.8" height="39.7" fill="#ffa500" stroke="#333" stroke-width="0.6"/>
<line x1="573.6" y1="310.6" x2="632.4" y2="310.6" stroke="#000" stroke-width="1.6"/>
<rect x="487.5" y="269.5" width="158" height="134" fill="none" stroke="#888" stroke-width="1"/>
<line x1="483.8" y1="398.5" x2="487.4" y2="398.5" stroke="#555" stroke-width="0.9"/>
<text transform="translate(478.38 398.2) rotate(-90)" x="0" y="0" font-size="6.6" fill="#222" stroke="#222" stroke-width="0.03" text-anchor="middle">0</text>
<line x1="483.8" y1="378.5" x2="487.4" y2="378.5" stroke="#555" stroke-width="0.9"/>
<text transform="translate(478.38 378.35) rotate(-90)" x="0" y="0" font-size="6.6" fill="#222" stroke="#222" stroke-width="0.03" text-anchor="middle">5</text>
<line x1="483.8" y1="358.5" x2="487.4" y2="358.5" stroke="#555" stroke-width="0.9"/>
<text transform="translate(478.38 358.5) rotate(-90)" x="0" y="0" font-size="6.6" fill="#222" stroke="#222" stroke-width="0.03" text-anchor="middle">10</text>
<line x1="483.8" y1="338.5" x2="487.4" y2="338.5" stroke="#555" stroke-width="0.9"/>
<text transform="translate(478.38 338.65) rotate(-90)" x="0" y="0" font-size="6.6" fill="#222" stroke="#222" stroke-width="0.03" text-anchor="middle">15</text>
<line x1="483.8" y1="318.5" x2="487.4" y2="318.5" stroke="#555" stroke-width="0.9"/>
<text transform="translate(478.38 318.8) rotate(-90)" x="0" y="0" font-size="6.6" fill="#222" stroke="#222" stroke-width="0.03" text-anchor="middle">20</text>
<line x1="483.8" y1="298.5" x2="487.4" y2="298.5" stroke="#555" stroke-width="0.9"/>
<text transform="translate(478.38 298.95) rotate(-90)" x="0" y="0" font-size="6.6" fill="#222" stroke="#222" stroke-width="0.03" text-anchor="middle">25</text>
<line x1="483.8" y1="279.5" x2="487.4" y2="279.5" stroke="#555" stroke-width="0.9"/>
<text transform="translate(478.38 279.1) rotate(-90)" x="0" y="0" font-size="6.6" fill="#222" stroke="#222" stroke-width="0.03" text-anchor="middle">30</text>
<line x1="530.5" y1="403.2" x2="530.5" y2="406.8" stroke="#555" stroke-width="0.9"/>
<text x="530.4" y="417.5" font-size="6.7" fill="#222" stroke="#222" stroke-width="0.1" text-anchor="middle">1</text>
<line x1="603.5" y1="403.2" x2="603.5" y2="406.8" stroke="#555" stroke-width="0.9"/>
<text x="603.4" y="417.5" font-size="6.7" fill="#222" stroke="#222" stroke-width="0.1" text-anchor="middle">2</text>
<text x="514.6" y="426.4" font-size="7.9" font-weight="bold" fill="#111" stroke="#111" stroke-width="0.1" text-anchor="start" textLength="27" lengthAdjust="spacingAndGlyphs">Control</text>
<text x="597" y="426.4" font-size="7.9" font-weight="bold" fill="#111" stroke="#111" stroke-width="0.1" text-anchor="start" textLength="11" lengthAdjust="spacingAndGlyphs">AD</text>
<text x="552.6" y="434" font-size="6.6" fill="#222" stroke="#222" stroke-width="0.1" text-anchor="start" textLength="27.4" lengthAdjust="spacingAndGlyphs">Condition</text>
<text x="512" y="256" font-size="8.1" font-weight="bold" fill="#111" stroke="#111" stroke-width="0.1" text-anchor="start" textLength="109.4" lengthAdjust="spacingAndGlyphs">ENST00000469657-DNAJC19</text>
<text x="626.6" y="255" font-size="9.8" fill="#000" stroke="#000" stroke-width="0.3" text-anchor="start" textLength="18" lengthAdjust="spacingAndGlyphs">(+6)</text>
<text transform="translate(462.3 336) rotate(-90)" x="0" y="0" font-size="6.4" fill="#222" stroke="#222" stroke-width="0.03" text-anchor="middle" textLength="80" lengthAdjust="spacingAndGlyphs">Normalized transcript count</text>
<line x1="72.8" y1="835.6" x2="72.8" y2="842.4" stroke="#333" stroke-width="0.65" stroke-dasharray="2.6 1.4"/>
<line x1="72.8" y1="851.6" x2="72.8" y2="855.4" stroke="#333" stroke-width="0.65" stroke-dasharray="2.6 1.4"/>
<line x1="58" y1="835.5" x2="87.6" y2="835.5" stroke="#555" stroke-width="0.9"/>
<line x1="58" y1="855.5" x2="87.6" y2="855.5" stroke="#555" stroke-width="0.9"/>
<rect x="43.6" y="842.4" width="58.4" height="9.2" fill="#0000ff" stroke="#333" stroke-width="0.6"/>
<line x1="43.6" y1="849" x2="102" y2="849" stroke="#000" stroke-width="1.6"/>
<line x1="145.7" y1="731.2" x2="145.7" y2="754.2" stroke="#333" stroke-width="0.65" stroke-dasharray="2.6 1.4"/>
<line x1="145.7" y1="784.4" x2="145.7" y2="791.4" stroke="#333" stroke-width="0.65" stroke-dasharray="2.6 1.4"/>
<line x1="131.4" y1="731.5" x2="160.6" y2="731.5" stroke="#555" stroke-width="0.9"/>
<line x1="131.4" y1="791.5" x2="160.6" y2="791.5" stroke="#555" stroke-width="0.9"/>
<rect x="116.4" y="754.2" width="58.6" height="30.2" fill="#ffa500" stroke="#333" stroke-width="0.6"/>
<line x1="116.4" y1="777" x2="175" y2="777" stroke="#000" stroke-width="1.6"/>
<rect x="30.5" y="726.5" width="158" height="134" fill="none" stroke="#888" stroke-width="1"/>
<line x1="26.8" y1="859.5" x2="30.4" y2="859.5" stroke="#555" stroke-width="0.9"/>
<text transform="translate(21.38 859) rotate(-90)" x="0" y="0" font-size="6.6" fill="#222" stroke="#222" stroke-width="0.03" text-anchor="middle">0</text>
<line x1="26.8" y1="838.5" x2="30.4" y2="838.5" stroke="#555" stroke-width="0.9"/>
<text transform="translate(21.38 838.35) rotate(-90)" x="0" y="0" font-size="6.6" fill="#222" stroke="#222" stroke-width="0.03" text-anchor="middle">200</text>
<line x1="26.8" y1="817.5" x2="30.4" y2="817.5" stroke="#555" stroke-width="0.9"/>
<text transform="translate(21.38 817.7) rotate(-90)" x="0" y="0" font-size="6.6" fill="#222" stroke="#222" stroke-width="0.03" text-anchor="middle">400</text>
<line x1="26.8" y1="797.5" x2="30.4" y2="797.5" stroke="#555" stroke-width="0.9"/>
<text transform="translate(21.38 797.05) rotate(-90)" x="0" y="0" font-size="6.6" fill="#222" stroke="#222" stroke-width="0.03" text-anchor="middle">600</text>
<line x1="26.8" y1="776.5" x2="30.4" y2="776.5" stroke="#555" stroke-width="0.9"/>
<text transform="translate(21.38 776.4) rotate(-90)" x="0" y="0" font-size="6.6" fill="#222" stroke="#222" stroke-width="0.03" text-anchor="middle">800</text>
<line x1="26.8" y1="755.5" x2="30.4" y2="755.5" stroke="#555" stroke-width="0.9"/>
<text transform="translate(21.38 755.75) rotate(-90)" x="0" y="0" font-size="6.6" fill="#222" stroke="#222" stroke-width="0.03" text-anchor="middle">1000</text>
<line x1="26.8" y1="735.5" x2="30.4" y2="735.5" stroke="#555" stroke-width="0.9"/>
<text transform="translate(21.38 735.1) rotate(-90)" x="0" y="0" font-size="6.6" fill="#222" stroke="#222" stroke-width="0.03" text-anchor="middle">1200</text>
<line x1="73.5" y1="860.2" x2="73.5" y2="863.8" stroke="#555" stroke-width="0.9"/>
<text x="73" y="874.3" font-size="6.7" fill="#222" stroke="#222" stroke-width="0.1" text-anchor="middle">1</text>
<line x1="146.5" y1="860.2" x2="146.5" y2="863.8" stroke="#555" stroke-width="0.9"/>
<text x="146" y="874.3" font-size="6.7" fill="#222" stroke="#222" stroke-width="0.1" text-anchor="middle">2</text>
<text x="60" y="881.8" font-size="7.9" font-weight="bold" fill="#111" stroke="#111" stroke-width="0.1" text-anchor="start" textLength="27.4" lengthAdjust="spacingAndGlyphs">Control</text>
<text x="140" y="881.8" font-size="7.9" font-weight="bold" fill="#111" stroke="#111" stroke-width="0.1" text-anchor="start" textLength="11" lengthAdjust="spacingAndGlyphs">AD</text>
<text x="95.6" y="890.5" font-size="6.6" fill="#222" stroke="#222" stroke-width="0.1" text-anchor="start" textLength="27.4" lengthAdjust="spacingAndGlyphs">Condition</text>
<text x="61" y="713" font-size="8.1" font-weight="bold" fill="#111" stroke="#111" stroke-width="0.1" text-anchor="start" textLength="96" lengthAdjust="spacingAndGlyphs">ENST00000486862-OPTN</text>
<text x="162.6" y="712" font-size="9.8" fill="#000" stroke="#000" stroke-width="0.3" text-anchor="start" textLength="18" lengthAdjust="spacingAndGlyphs">(+3)</text>
<text transform="translate(5.9 792.5) rotate(-90)" x="0" y="0" font-size="6.4" fill="#222" stroke="#222" stroke-width="0.03" text-anchor="middle" textLength="81" lengthAdjust="spacingAndGlyphs">Normalized transcript count</text>
<line x1="293.3" y1="839.6" x2="293.3" y2="840.9" stroke="#333" stroke-width="0.65" stroke-dasharray="2.6 1.4"/>
<line x1="293.3" y1="848.3" x2="293.3" y2="855.4" stroke="#333" stroke-width="0.65" stroke-dasharray="2.6 1.4"/>
<line x1="278.6" y1="839.5" x2="308" y2="839.5" stroke="#555" stroke-width="0.9"/>
<line x1="278.6" y1="855.5" x2="308" y2="855.5" stroke="#555" stroke-width="0.9"/>
<rect x="264" y="840.9" width="58.6" height="7.4" fill="#0000ff" stroke="#333" stroke-width="0.6"/>
<line x1="264" y1="841.7" x2="322.6" y2="841.7" stroke="#000" stroke-width="1.6"/>
<line x1="366" y1="731.4" x2="366" y2="748.5" stroke="#333" stroke-width="0.65" stroke-dasharray="2.6 1.4"/>
<line x1="366" y1="779.4" x2="366" y2="793.4" stroke="#333" stroke-width="0.65" stroke-dasharray="2.6 1.4"/>
<line x1="351.6" y1="731.5" x2="380.6" y2="731.5" stroke="#555" stroke-width="0.9"/>
<line x1="351.6" y1="793.5" x2="380.6" y2="793.5" stroke="#555" stroke-width="0.9"/>
<rect x="336.6" y="748.5" width="58.8" height="30.9" fill="#ffa500" stroke="#333" stroke-width="0.6"/>
<line x1="336.6" y1="765.6" x2="395.4" y2="765.6" stroke="#000" stroke-width="1.6"/>
<rect x="250.5" y="726.5" width="158" height="134" fill="none" stroke="#888" stroke-width="1"/>
<line x1="247" y1="825.5" x2="250.6" y2="825.5" stroke="#555" stroke-width="0.9"/>
<text transform="translate(241.38 825) rotate(-90)" x="0" y="0" font-size="6.6" fill="#222" stroke="#222" stroke-width="0.03" text-anchor="middle">50</text>
<line x1="247" y1="784.5" x2="250.6" y2="784.5" stroke="#555" stroke-width="0.9"/>
<text transform="translate(241.38 784.2) rotate(-90)" x="0" y="0" font-size="6.6" fill="#222" stroke="#222" stroke-width="0.03" text-anchor="middle">100</text>
<line x1="247" y1="743.5" x2="250.6" y2="743.5" stroke="#555" stroke-width="0.9"/>
<text transform="translate(241.38 743.4) rotate(-90)" x="0" y="0" font-size="6.6" fill="#222" stroke="#222" stroke-width="0.03" text-anchor="middle">150</text>
<line x1="293.5" y1="860.4" x2="293.5" y2="864" stroke="#555" stroke-width="0.9"/>
<text x="293.6" y="874" font-size="6.7" fill="#222" stroke="#222" stroke-width="0.1" text-anchor="middle">1</text>
<line x1="366.5" y1="860.4" x2="366.5" y2="864" stroke="#555" stroke-width="0.9"/>
<text x="366.5" y="874" font-size="6.7" fill="#222" stroke="#222" stroke-width="0.1" text-anchor="middle">2</text>
<text x="281.6" y="881.6" font-size="7.9" font-weight="bold" fill="#111" stroke="#111" stroke-width="0.1" text-anchor="start" textLength="27" lengthAdjust="spacingAndGlyphs">Control</text>
<text x="361.4" y="881.6" font-size="7.9" font-weight="bold" fill="#111" stroke="#111" stroke-width="0.1" text-anchor="start" textLength="11" lengthAdjust="spacingAndGlyphs">AD</text>
<text x="316" y="890.5" font-size="6.6" fill="#222" stroke="#222" stroke-width="0.1" text-anchor="start" textLength="27.4" lengthAdjust="spacingAndGlyphs">Condition</text>
<text x="281" y="713" font-size="8.1" font-weight="bold" fill="#111" stroke="#111" stroke-width="0.1" text-anchor="start" textLength="96.6" lengthAdjust="spacingAndGlyphs">ENST00000586996-MUM1</text>
<text x="384.6" y="712" font-size="9.8" fill="#000" stroke="#000" stroke-width="0.3" text-anchor="start" textLength="18" lengthAdjust="spacingAndGlyphs">(+2)</text>
<text transform="translate(225.9 792.5) rotate(-90)" x="0" y="0" font-size="6.4" fill="#222" stroke="#222" stroke-width="0.03" text-anchor="middle" textLength="81" lengthAdjust="spacingAndGlyphs">Normalized transcript count</text>
<line x1="541.7" y1="839" x2="541.7" y2="840.2" stroke="#333" stroke-width="0.65" stroke-dasharray="2.6 1.4"/>
<line x1="541.7" y1="847.6" x2="541.7" y2="853.4" stroke="#333" stroke-width="0.65" stroke-dasharray="2.6 1.4"/>
<line x1="527.4" y1="839.5" x2="556.6" y2="839.5" stroke="#555" stroke-width="0.9"/>
<line x1="527.4" y1="853.5" x2="556.6" y2="853.5" stroke="#555" stroke-width="0.9"/>
<rect x="512.4" y="840.2" width="58.6" height="7.4" fill="#0000ff" stroke="#333" stroke-width="0.6"/>
<line x1="512.4" y1="841.1" x2="571" y2="841.1" stroke="#000" stroke-width="1.6"/>
<line x1="614.7" y1="729.4" x2="614.7" y2="743" stroke="#333" stroke-width="0.65" stroke-dasharray="2.6 1.4"/>
<line x1="614.7" y1="762.6" x2="614.7" y2="769" stroke="#333" stroke-width="0.65" stroke-dasharray="2.6 1.4"/>
<line x1="600.4" y1="729.5" x2="629.4" y2="729.5" stroke="#555" stroke-width="0.9"/>
<line x1="600.4" y1="769.5" x2="629.4" y2="769.5" stroke="#555" stroke-width="0.9"/>
<rect x="585.4" y="743" width="58.6" height="19.6" fill="#ffa500" stroke="#333" stroke-width="0.6"/>
<line x1="585.4" y1="756" x2="644" y2="756" stroke="#000" stroke-width="1.6"/>
<rect x="499.5" y="724.5" width="158" height="134" fill="none" stroke="#888" stroke-width="1"/>
<line x1="495.8" y1="842.5" x2="499.4" y2="842.5" stroke="#555" stroke-width="0.9"/>
<text transform="translate(490.38 842.4) rotate(-90)" x="0" y="0" font-size="6.6" fill="#222" stroke="#222" stroke-width="0.03" text-anchor="middle">10</text>
<line x1="495.8" y1="822.5" x2="499.4" y2="822.5" stroke="#555" stroke-width="0.9"/>
<text transform="translate(490.38 822.4) rotate(-90)" x="0" y="0" font-size="6.6" fill="#222" stroke="#222" stroke-width="0.03" text-anchor="middle">20</text>
<line x1="495.8" y1="802.5" x2="499.4" y2="802.5" stroke="#555" stroke-width="0.9"/>
<text transform="translate(490.38 802.4) rotate(-90)" x="0" y="0" font-size="6.6" fill="#222" stroke="#222" stroke-width="0.03" text-anchor="middle">30</text>
<line x1="495.8" y1="782.5" x2="499.4" y2="782.5" stroke="#555" stroke-width="0.9"/>
<text transform="translate(490.38 782.4) rotate(-90)" x="0" y="0" font-size="6.6" fill="#222" stroke="#222" stroke-width="0.03" text-anchor="middle">40</text>
<line x1="495.8" y1="762.5" x2="499.4" y2="762.5" stroke="#555" stroke-width="0.9"/>
<text transform="translate(490.38 762.4) rotate(-90)" x="0" y="0" font-size="6.6" fill="#222" stroke="#222" stroke-width="0.03" text-anchor="middle">50</text>
<line x1="495.8" y1="742.5" x2="499.4" y2="742.5" stroke="#555" stroke-width="0.9"/>
<text transform="translate(490.38 742.4) rotate(-90)" x="0" y="0" font-size="6.6" fill="#222" stroke="#222" stroke-width="0.03" text-anchor="middle">60</text>
<line x1="542.5" y1="858.4" x2="542.5" y2="862" stroke="#555" stroke-width="0.9"/>
<text x="542" y="872.5" font-size="6.7" fill="#222" stroke="#222" stroke-width="0.1" text-anchor="middle">1</text>
<line x1="614.5" y1="858.4" x2="614.5" y2="862" stroke="#555" stroke-width="0.9"/>
<text x="614.8" y="872.5" font-size="6.7" fill="#222" stroke="#222" stroke-width="0.1" text-anchor="middle">2</text>
<text x="530" y="881.6" font-size="7.9" font-weight="bold" fill="#111" stroke="#111" stroke-width="0.1" text-anchor="start" textLength="27.4" lengthAdjust="spacingAndGlyphs">Control</text>
<text x="610" y="881.6" font-size="7.9" font-weight="bold" fill="#111" stroke="#111" stroke-width="0.1" text-anchor="start" textLength="11" lengthAdjust="spacingAndGlyphs">AD</text>
<text x="564.4" y="888.6" font-size="6.6" fill="#222" stroke="#222" stroke-width="0.1" text-anchor="start" textLength="27.6" lengthAdjust="spacingAndGlyphs">Condition</text>
<text x="523" y="711.4" font-size="8.1" font-weight="bold" fill="#111" stroke="#111" stroke-width="0.1" text-anchor="start" textLength="110" lengthAdjust="spacingAndGlyphs">ENST00000553282-PPP2R3C</text>
<text x="636.6" y="712" font-size="9.8" fill="#000" stroke="#000" stroke-width="0.3" text-anchor="start" textLength="18" lengthAdjust="spacingAndGlyphs">(+3)</text>
<text transform="translate(474.7 791) rotate(-90)" x="0" y="0" font-size="6.4" fill="#222" stroke="#222" stroke-width="0.03" text-anchor="middle" textLength="81" lengthAdjust="spacingAndGlyphs">Normalized transcript count</text>
</svg>
</body></html>
